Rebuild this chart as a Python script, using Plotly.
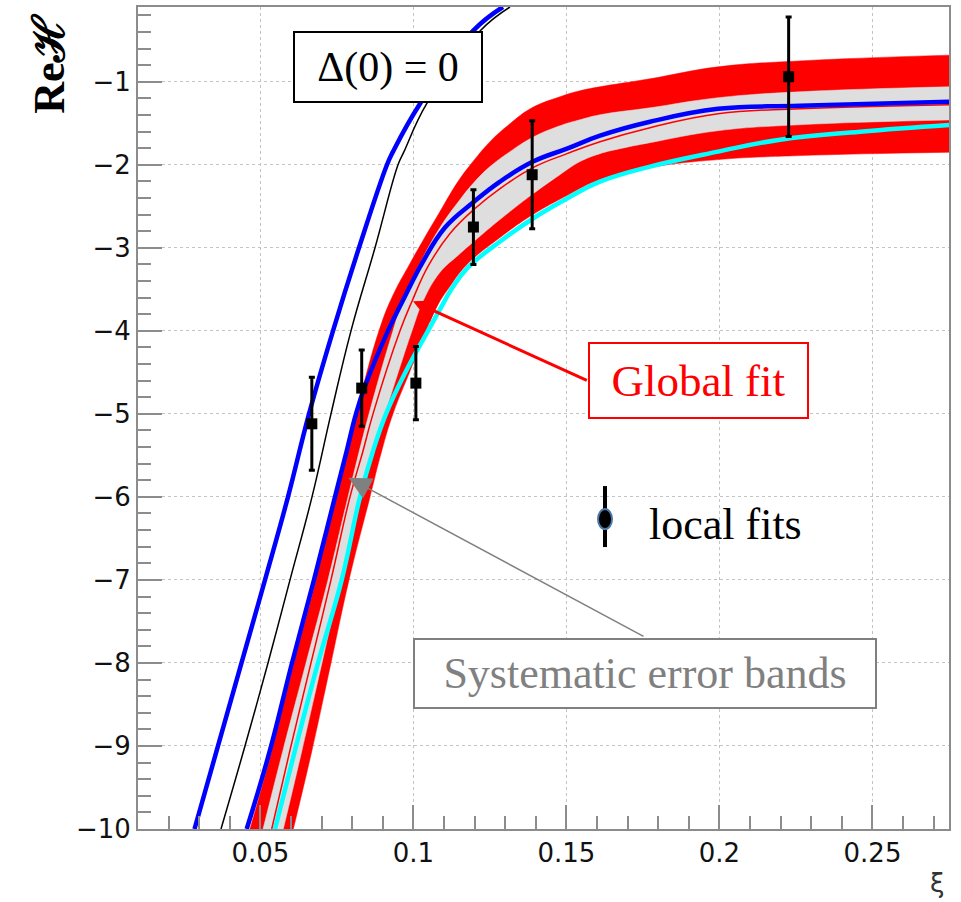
import plotly.graph_objects as go

# ---------------- data ----------------
# local fits (black squares with error bars)
xi_pts = [0.0668, 0.0831, 0.1008, 0.1196, 0.1388, 0.2226]
reh_pts = [-5.12, -4.69, -4.63, -2.75, -2.12, -0.94]
reh_err = [0.56, 0.46, 0.44, 0.45, 0.65, 0.72]

# Delta(0) = 0 curves
d0_blue_xi = [0.02846, 0.03614, 0.04382, 0.05150, 0.05901, 0.06588, 0.07372,
              0.08221, 0.09136, 0.09332, 0.10215, 0.11946, 0.12927]
d0_blue_reh = [-10.0, -9.0, -8.0, -7.0, -6.0, -5.0, -4.0,
               -3.0, -2.0, -1.842, -1.265, -0.388, -0.1]
d0_black_xi = [0.03712, 0.04496, 0.05248, 0.05967, 0.06686, 0.07306, 0.07960,
               0.08744, 0.09496, 0.09692, 0.10434, 0.12175, 0.13155]
d0_black_reh = [-10.0, -9.0, -8.0, -7.0, -6.0, -5.0, -4.0,
                -3.0, -2.0, -1.842, -1.265, -0.388, -0.1]

# global fit: systematic band (outer edges)
sys_up_xi = [0.04660, 0.05379, 0.06098, 0.06816, 0.07437, 0.08123, 0.08875, 0.09300,
             0.09888, 0.10313, 0.10868, 0.11456, 0.11946, 0.12502, 0.13155, 0.13874,
             0.14789, 0.15443, 0.16096, 0.17730, 0.19952, 0.22631, 0.275]
sys_up_reh = [-10.0, -9.051, -8.0, -7.0, -6.0, -5.0, -4.0, -3.596,
              -3.188, -2.912, -2.563, -2.203, -1.962, -1.722, -1.506, -1.314,
              -1.181, -1.109, -1.061, -0.965, -0.821, -0.749, -0.680]
sys_lo_xi = [0.06075, 0.06686, 0.07306, 0.07895, 0.08581, 0.08963, 0.09332, 0.09888,
             0.10411, 0.10770, 0.11195, 0.11718, 0.12829, 0.13907, 0.15018, 0.16096,
             0.17730, 0.19952, 0.22631, 0.275]
sys_lo_reh = [-10.0, -9.051, -8.0, -7.0, -6.0, -5.447, -5.0, -4.485,
              -4.0, -3.705, -3.464, -3.212, -2.876, -2.599, -2.371, -2.179,
              -2.034, -1.938, -1.890, -1.850]

# global fit: inner band
in_up_xi = [0.05085, 0.05738, 0.06490, 0.07208, 0.07862, 0.08548, 0.09332, 0.09692,
            0.10215, 0.10868, 0.11522, 0.11946, 0.12502, 0.13155, 0.13874, 0.14789,
            0.15443, 0.16096, 0.17730, 0.19952, 0.22631, 0.275]
in_up_reh = [-10.0, -9.051, -8.0, -7.0, -6.0, -5.0, -4.0, -3.596,
             -3.188, -2.755, -2.419, -2.227, -2.022, -1.842, -1.674, -1.530,
             -1.458, -1.398, -1.314, -1.193, -1.121, -1.061]
in_lo_xi = [0.05748, 0.06359, 0.07012, 0.07633, 0.08287, 0.08689, 0.09071, 0.09953,
            0.10313, 0.10868, 0.11456, 0.12012, 0.12829, 0.13874, 0.14789, 0.15443,
            0.16096, 0.16750, 0.17730, 0.19952, 0.22631, 0.275]
in_lo_reh = [-10.0, -9.051, -8.0, -7.0, -6.0, -5.447, -5.0, -4.0,
             -3.644, -3.296, -3.092, -2.912, -2.659, -2.359, -2.119, -1.962,
             -1.866, -1.806, -1.734, -1.590, -1.518, -1.461]

# global fit central curve
fit_xi = [0.05369, 0.05967, 0.06653, 0.07306, 0.07927, 0.08352, 0.08679, 0.09561,
          0.09953, 0.10476, 0.11195, 0.12012, 0.12829, 0.13907, 0.15018, 0.16096,
          0.17730, 0.19952, 0.22631, 0.275]
fit_reh = [-10.0, -9.051, -8.0, -7.0, -6.0, -5.447, -5.0, -4.0,
           -3.644, -3.224, -2.828, -2.527, -2.287, -2.034, -1.866, -1.722,
           -1.554, -1.386, -1.326, -1.277]

# alternative fits
alt_blue_xi = [0.04552, 0.05313, 0.06032, 0.06751, 0.07437, 0.07819, 0.08123, 0.08417,
               0.09169, 0.09692, 0.10280, 0.11032, 0.11946, 0.12829, 0.13907, 0.15018,
               0.16096, 0.17730, 0.19952, 0.22631, 0.275]
alt_blue_reh = [-10.0, -9.051, -8.0, -7.0, -6.0, -5.447, -5.0, -4.666,
                -4.0, -3.608, -3.188, -2.755, -2.455, -2.203, -1.962, -1.806,
                -1.650, -1.482, -1.326, -1.290, -1.241]
alt_cyan_xi = [0.05477, 0.06130, 0.06882, 0.07656, 0.08254, 0.08679, 0.09104, 0.09724,
               0.10476, 0.10868, 0.11260, 0.11750, 0.12829, 0.13907, 0.15018, 0.16096,
               0.17730, 0.19952, 0.21978, 0.24592, 0.275]
alt_cyan_reh = [-10.0, -9.051, -8.0, -7.0, -6.0, -5.447, -5.0, -4.510,
                -4.0, -3.741, -3.488, -3.248, -2.924, -2.647, -2.407, -2.203,
                -2.022, -1.842, -1.698, -1.602, -1.521]

# axis ticks
x_tickvals = [0.05, 0.1, 0.15, 0.2, 0.25]
x_ticktext = ["0.05", "0.1", "0.15", "0.2", "0.25"]
y_tickvals = [-10, -9, -8, -7, -6, -5, -4, -3, -2, -1]
y_ticktext = ["\u221210", "\u22129", "\u22128", "\u22127", "\u22126",
              "\u22125", "\u22124", "\u22123", "\u22122", "\u22121"]

# ---------------- figure ----------------
RED = "#ff0000"
BLUE = "#0000ff"
CYAN = "#00ffff"
BAND_GREY = "#dedede"
AXIS_GREY = "#8c8c8c"
SMOOTH = 1.2


def band(fig, lo_x, lo_y, up_x, up_y, color):
    """Filled band between a lower and an upper edge curve."""
    fig.add_trace(go.Scatter(x=lo_x, y=lo_y, mode="lines", hoverinfo="skip",
                             line=dict(color=color, width=0.5, shape="spline",
                                       smoothing=SMOOTH)))
    fig.add_trace(go.Scatter(x=up_x, y=up_y, mode="lines", hoverinfo="skip",
                             fill="tonexty", fillcolor=color,
                             line=dict(color=color, width=0.5, shape="spline",
                                       smoothing=SMOOTH)))


def curve(fig, x, y, color, width):
    fig.add_trace(go.Scatter(x=x, y=y, mode="lines",
                             line=dict(color=color, width=width, shape="spline",
                                       smoothing=SMOOTH)))


fig = go.Figure()

# systematic band (red) with the statistical band (grey) on top
band(fig, sys_lo_xi, sys_lo_reh, sys_up_xi, sys_up_reh, RED)
band(fig, in_lo_xi, in_lo_reh, in_up_xi, in_up_reh, BAND_GREY)

# central global fit and alternative curves
curve(fig, fit_xi, fit_reh, RED, 1.5)
curve(fig, alt_cyan_xi, alt_cyan_reh, CYAN, 4.5)
curve(fig, alt_blue_xi, alt_blue_reh, BLUE, 4.5)
curve(fig, d0_blue_xi, d0_blue_reh, BLUE, 4.5)
curve(fig, d0_black_xi, d0_black_reh, "black", 1.5)

# local fits
fig.add_trace(go.Scatter(
    x=xi_pts, y=reh_pts, mode="markers",
    marker=dict(symbol="square", size=11, color="black"),
    error_y=dict(type="data", array=reh_err, visible=True,
                 color="black", thickness=3, width=3)))

axis_common = dict(
    ticks="inside", ticklen=24, tickwidth=1.5, tickcolor=AXIS_GREY,
    showline=True, linecolor=AXIS_GREY, linewidth=2, mirror=True,
    showgrid=True, gridcolor="#c4c4c4", griddash="dot", gridwidth=1,
    zeroline=False,
    tickfont=dict(family="DejaVu Sans, Arial, sans-serif", size=26, color="#111111"),
)

fig.update_layout(
    width=961, height=902,
    margin=dict(l=138, r=12, t=5, b=73),
    paper_bgcolor="white", plot_bgcolor="white",
    showlegend=False,
    xaxis=dict(range=[0.01, 0.275], tickmode="array",
               tickvals=x_tickvals, ticktext=x_ticktext,
               minor=dict(ticks="inside", ticklen=13, tickwidth=1.5, tickcolor=AXIS_GREY,
                          dtick=0.01, tick0=0, showgrid=False),
               **axis_common),
    yaxis=dict(range=[-10, -0.1], tickmode="array",
               tickvals=y_tickvals, ticktext=y_ticktext,
               minor=dict(ticks="inside", ticklen=13, tickwidth=1.5, tickcolor=AXIS_GREY,
                          dtick=0.2, tick0=0, showgrid=False),
               **axis_common),
)

serif = "Liberation Serif, Times New Roman, serif"

annotations = [
    # axis titles
    dict(text="<b>Re\u210b</b>", xref="paper", yref="paper", x=-0.1085, y=0.931,
         textangle=-90, showarrow=False, xanchor="center", yanchor="middle",
         font=dict(family=serif, size=44, color="black")),
    dict(text="\u03be", xref="paper", yref="paper", x=0.9864, y=-0.0655,
         showarrow=False, xanchor="center", yanchor="middle",
         font=dict(family="DejaVu Sans, Arial, sans-serif", size=26, color="#333333")),
    # labelled boxes
    dict(text="\u0394(0) = 0", xref="paper", yref="paper", x=0.3083, y=0.9266,
         showarrow=False, xanchor="center", yanchor="middle",
         width=186, height=68, borderpad=0, borderwidth=2, bordercolor="black",
         bgcolor="white", font=dict(family=serif, size=42, color="black")),
    dict(text="Global fit", xref="paper", yref="paper", x=0.6915, y=0.5453,
         showarrow=False, xanchor="center", yanchor="middle",
         width=217, height=73, borderpad=0, borderwidth=2, bordercolor=RED,
         bgcolor="white", font=dict(family=serif, size=45, color=RED)),
    dict(text="Systematic error bands", xref="paper", yref="paper", x=0.6255, y=0.1896,
         showarrow=False, xanchor="center", yanchor="middle",
         width=460, height=67, borderpad=0, borderwidth=2, bordercolor="#808080",
         bgcolor="white", font=dict(family=serif, size=44, color="#808080")),
    dict(text="local fits", xref="paper", yref="paper", x=0.628, y=0.370,
         showarrow=False, xanchor="left", yanchor="middle",
         font=dict(family=serif, size=44, color="black")),
    # arrows
    dict(text="", x=0.09986, y=-3.644, ax=0.15714, ay=-4.606,
         xref="x", yref="y", axref="x", ayref="y",
         showarrow=True, arrowhead=2, arrowsize=1.6, arrowwidth=3, arrowcolor=RED,
         standoff=0, startstandoff=0),
    dict(text="", x=0.07878, y=-5.771, ax=0.17567, ay=-7.690,
         xref="x", yref="y", axref="x", ayref="y",
         showarrow=True, arrowhead=2, arrowsize=3, arrowwidth=1.5, arrowcolor="#808080",
         standoff=0, startstandoff=0),
]
fig.update_layout(annotations=annotations)

# legend symbol for the local fits
legend_xi, legend_reh = 0.1626, -6.267
fig.add_shape(type="line", xref="x", yref="y", xsizemode="pixel", ysizemode="pixel",
              xanchor=legend_xi, yanchor=legend_reh, x0=0, x1=0, y0=-28, y1=33,
              line=dict(color="black", width=4))
fig.add_shape(type="circle", xref="x", yref="y", xsizemode="pixel", ysizemode="pixel",
              xanchor=legend_xi, yanchor=legend_reh, x0=-7, x1=7, y0=-10, y1=10,
              fillcolor="black", line=dict(color="#4a78a8", width=2))

fig.write_html("out.html")
